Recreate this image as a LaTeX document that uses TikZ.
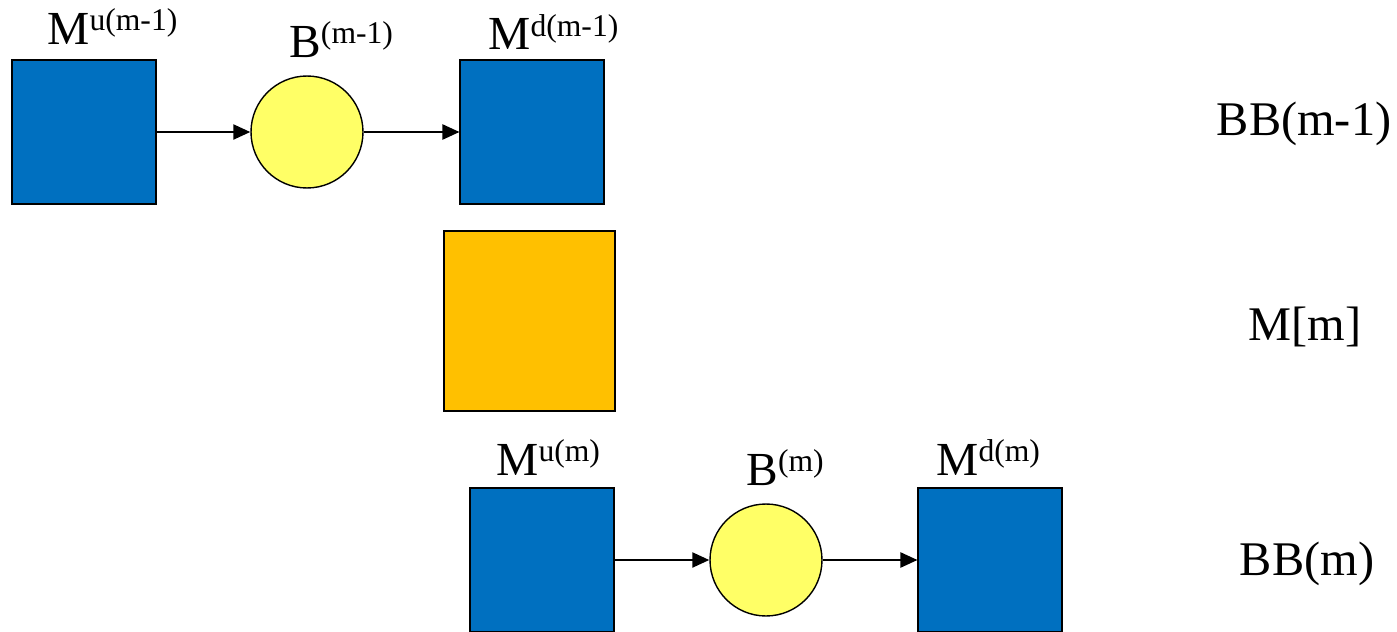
\documentclass[tikz,border=0pt]{standalone}
\usepackage{fontspec}
\setmainfont{Liberation Serif}
\usetikzlibrary{arrows.meta}

\definecolor{boxblue}{RGB}{0,112,192}
\definecolor{bufyellow}{RGB}{255,255,102}
\definecolor{midorange}{RGB}{255,192,0}

\newcommand{\supx}[1]{\raisebox{7.5pt}{\fontsize{18}{18}\selectfont #1}}

\begin{document}
\begin{tikzpicture}[x=0.02cm, y=-0.02cm, machine/.style={rectangle, draw=black, fill=boxblue, line width=0.6pt, minimum size=2.88cm, inner sep=0pt}, buffer/.style={circle, draw=black, fill=bufyellow, line width=0.8pt, minimum size=2.24cm, inner sep=0pt}, middle/.style={rectangle, draw=black, fill=midorange, line width=0.8pt, minimum width=3.42cm, minimum height=3.6cm, inner sep=0pt}, lab/.style={anchor=base west, inner sep=0pt, font=\fontsize{27}{32}\selectfont}, side/.style={anchor=base, inner sep=0pt, font=\fontsize{27.5}{32}\selectfont}, arr/.style={line width=1.3pt, -{Triangle[length=0.34cm, width=0.3cm]}}]
		\useasboundingbox (0, 0) rectangle (1397, 632);

		\node[machine] (mu1) at (84, 132) {};
		\node[buffer] (b1) at (307, 132) {};
		\node[machine] (md1) at (532, 132) {};
		\node[middle] (mm) at (529.5, 321) {};
        \node[machine] (mu2) at (542, 560) {};
        \node[buffer] (b2) at (766, 560) {};
        \node[machine] (md2) at (990, 560) {};

		\node[lab] (lmu1) at (47, 44) {M\supx{u(m-1)}};
		\node[lab] (lb1) at (289, 57) {B\supx{(m-1)}};
		\node[lab] (lmd1) at (488, 50) {M\supx{d(m-1)}};
        \node[lab] (lmu2) at (496, 475) {M\supx{u(m)}};
        \node[lab] (lb2) at (746, 485) {B\supx{(m)}};
        \node[lab] (lmd2) at (936, 475) {M\supx{d(m)}};

		\node[side] (bb1) at (1304, 135) {BB(m-1)};
		\node[side] (mmlab) at (1305, 340) {M[m]};
		\node[side] (bb2) at (1307, 575) {BB(m)};

		\draw[arr] (mu1) -- (b1);
		\draw[arr] (b1) -- (md1);
        \draw[arr] (mu2) -- (b2);
        \draw[arr] (b2) -- (md2);
	\end{tikzpicture}
\end{document}
